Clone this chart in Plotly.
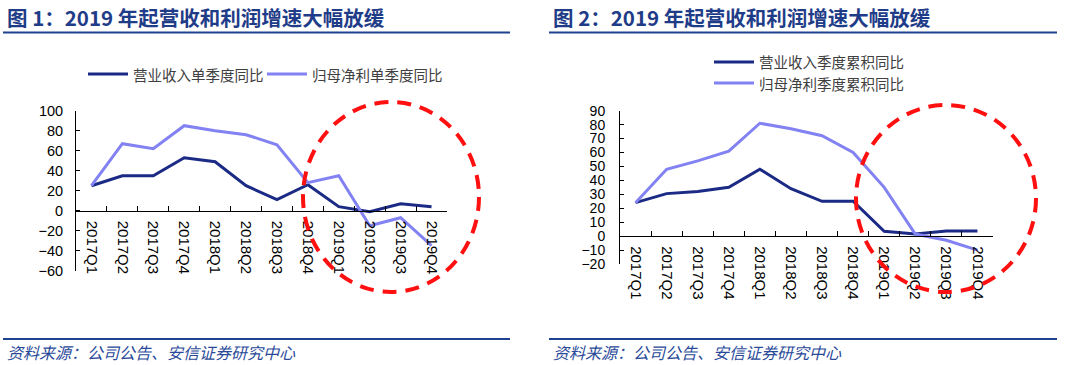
import plotly.graph_objects as go

quarters = ["2017Q1", "2017Q2", "2017Q3", "2017Q4", "2018Q1", "2018Q2",
            "2018Q3", "2018Q4", "2019Q1", "2019Q2", "2019Q3", "2019Q4"]

# Chart 1: single-quarter YoY (%)
rev_q = [25, 35, 35, 53, 49, 25, 11, 26, 4, -1, 7, 4]
np_q = [25, 67, 62, 85, 80, 76, 66, 28, 35, -15, -7, -35]

# Chart 2: cumulative YoY (%)
rev_c = [24, 30.5, 32, 35, 48, 34, 25, 25, 3.5, 1.5, 3.7, 3.7]
np_c = [24, 48, 54, 61, 81, 77, 72, 60, 35, 1.5, -3, -10]

names1 = ["营业收入单季度同比", "归母净利单季度同比"]
names2 = ["营业收入季度累积同比", "归母净利季度累积同比"]
titles = ["图 1：2019 年起营收和利润增速大幅放缓", "图 2：2019 年起营收和利润增速大幅放缓"]
source = "资料来源：公司公告、安信证券研究中心"

W, H = 1080, 365
NAVY = "#1b2a85"
LIGHT = "#8282f2"
TITLE_C = "#1f3c88"
CJK = "Noto Sans CJK SC"
NUM = "Liberation Sans, Arial"

def px(x):
    return x / W

def py(y):
    return 1 - y / H

fig = go.Figure()

fig.add_trace(go.Scatter(x=quarters, y=rev_q, name=names1[0], mode="lines",
                         line=dict(color=NAVY, width=3), xaxis="x", yaxis="y"))
fig.add_trace(go.Scatter(x=quarters, y=np_q, name=names1[1], mode="lines",
                         line=dict(color=LIGHT, width=3), xaxis="x", yaxis="y"))
fig.add_trace(go.Scatter(x=quarters, y=rev_c, name=names2[0], mode="lines",
                         line=dict(color=NAVY, width=3), xaxis="x2", yaxis="y2"))
fig.add_trace(go.Scatter(x=quarters, y=np_c, name=names2[1], mode="lines",
                         line=dict(color=LIGHT, width=3), xaxis="x2", yaxis="y2"))

y1_range = [-60, 100]
y2_range = [-20, 90]
y1_dom = [py(270.7), py(110.7)]
y2_dom = [py(264), py(110.7)]
x_range = [-0.5, len(quarters) - 0.5]

def zero_pos(rng, dom):
    return dom[0] + (0 - rng[0]) / (rng[1] - rng[0]) * (dom[1] - dom[0])

xcommon = dict(type="category", range=x_range, showline=True, linecolor="black", linewidth=1,
               ticks="inside", ticklen=5, tickcolor="black", tickson="boundaries",
               tickangle=90, tickfont=dict(family=NUM, size=15, color="black"),
               ticklabelstandoff=6,
               showgrid=False, zeroline=False, anchor="free", fixedrange=True,
               automargin=False)
ycommon = dict(showline=True, linecolor="black", linewidth=1, ticks="inside", ticklen=4,
               tickcolor="black", showgrid=False, zeroline=False, fixedrange=True,
               automargin=False)

layout = dict(
    template="none",
    width=W, height=H,
    margin=dict(l=0, r=0, t=0, b=0, pad=0, autoexpand=False),
    paper_bgcolor="white", plot_bgcolor="white",
    showlegend=False,
    xaxis=dict(domain=[px(76), px(447)], position=zero_pos(y1_range, y1_dom), **xcommon),
    yaxis=dict(domain=y1_dom, range=y1_range, dtick=20, anchor="x", ticklabelstandoff=9,
               tickfont=dict(family=NUM, size=14.5, color="black"), **ycommon),
    xaxis2=dict(domain=[px(620), px(993)], position=zero_pos(y2_range, y2_dom), **xcommon),
    yaxis2=dict(domain=y2_dom, range=y2_range, dtick=10, anchor="x2", ticklabelstandoff=11,
                tickfont=dict(family=NUM, size=14, color="black"), **ycommon),
)
fig.update_layout(**layout)

shapes = []
annotations = []
# title underlines and footer lines
for x0, x1 in [(3, 510), (549, 1057)]:
    shapes.append(dict(type="line", xref="paper", yref="paper", x0=px(x0), x1=px(x1),
                       y0=py(32.5), y1=py(32.5), line=dict(color="#1f4290", width=2)))
    shapes.append(dict(type="line", xref="paper", yref="paper", x0=px(x0), x1=px(x1),
                       y0=py(339), y1=py(339), line=dict(color="#1f4290", width=2)))
# red dashed circles
for (x0, x1, y0, y1) in [(303, 479, 102, 292), (856, 1036, 105, 292)]:
    shapes.append(dict(type="circle", xref="paper", yref="paper", x0=px(x0), x1=px(x1),
                       y0=py(y1), y1=py(y0), line=dict(color="#ff1010", width=4, dash="14px,9px")))

# legends (line sample + label)
legend_items = [
    (88, 74, NAVY, names1[0]), (267, 74, LIGHT, names1[1]),
    (714, 62, NAVY, names2[0]), (714, 83, LIGHT, names2[1]),
]
for lx, ly, col, txt in legend_items:
    shapes.append(dict(type="line", xref="paper", yref="paper", x0=px(lx), x1=px(lx + 40),
                       y0=py(ly), y1=py(ly), line=dict(color=col, width=3)))
    annotations.append(dict(text=txt, xref="paper", yref="paper", x=px(lx + 43), y=py(ly),
                            xanchor="left", yanchor="middle", showarrow=False,
                            font=dict(family=CJK, size=14.5, color="#404040")))
fig.update_layout(shapes=shapes)

for xt, t in [(5, titles[0]), (551, titles[1])]:
    annotations.append(dict(text="<b>" + t + "</b>", xref="paper", yref="paper", x=px(xt), y=py(17),
                            xanchor="left", yanchor="middle", showarrow=False,
                            font=dict(family=CJK, size=20.5, color=TITLE_C)))
for xs in [5, 551]:
    annotations.append(dict(text=source, xref="paper", yref="paper", x=px(xs), y=py(352),
                            xanchor="left", yanchor="middle", showarrow=False,
                            font=dict(family=CJK, size=16, color="#2a4a99", style="italic")))
fig.update_layout(annotations=annotations)

fig.write_html("out.html", config={"displayModeBar": False},
               post_script="document.body.style.margin='0';")
